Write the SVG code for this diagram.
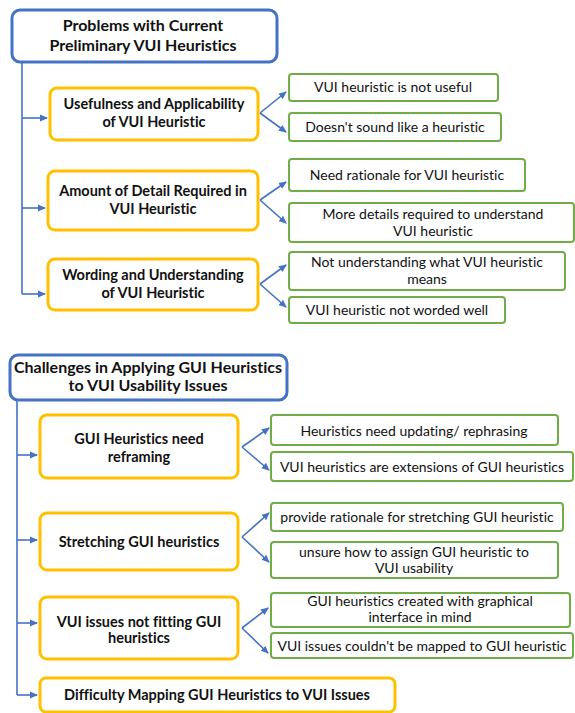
<svg xmlns="http://www.w3.org/2000/svg" width="575" height="713" viewBox="0 0 575 713">
<style>
.bg{fill:#ffffff}
.hd rect{fill:#fff;stroke:#4472C4;stroke-width:3}
.cat rect{fill:#fff;stroke:#FFC000;stroke-width:3}
.leaf rect{fill:#fff;stroke:#70AD47;stroke-width:2}
text{font-family:Lato,"Liberation Sans",sans-serif;fill:#111;text-anchor:middle;font-variant-ligatures:none;font-feature-settings:"liga" 0}
.hd text{font-size:16px;font-weight:bold}
.cat text{font-size:14.5px;font-weight:bold}
.leaf text{font-size:14px}
.cn path{fill:none;stroke:#4472C4;stroke-width:1.6;marker-end:url(#ah)}
.cn .nl{marker-end:none}
</style>
<defs>
<marker id="ah" markerWidth="8" markerHeight="8" refX="7" refY="4" orient="auto" markerUnits="userSpaceOnUse">
<path d="M0,0.5 L8,4 L0,7.5 Z" fill="#4472C4"/>
</marker>
</defs>
<rect class="bg" x="0" y="0" width="575" height="713"/>

<g class="cn" id="connectors">
<path class="nl" d="M22,62 V294"/>
<path d="M22,118 H47"/>
<path d="M22,208 H45"/>
<path d="M22,294 H45"/>
<path d="M260,113 L286,92"/>
<path d="M260,113 L286,132"/>
<path d="M260,200 L286,182"/>
<path d="M260,200 L286,223"/>
<path d="M260,284 L286,265"/>
<path d="M260,284 L286,307"/>
<path class="nl" d="M17,400 V695"/>
<path d="M17,455 H37"/>
<path d="M17,540 H37"/>
<path d="M17,623 H37"/>
<path d="M17,695 H37"/>
<path d="M242,447 L269,428"/>
<path d="M242,447 L269,470"/>
<path d="M242,537 L269,513"/>
<path d="M242,537 L269,562"/>
<path d="M242,628 L268,608"/>
<path d="M242,628 L268,653"/>
</g>

<g class="hd" id="n-problems">
<rect x="12" y="10" width="265" height="52" rx="8"/>
<text x="143" y="31">Problems with Current</text>
<text x="143" y="51">Preliminary VUI Heuristics</text>
</g>
<g class="cat" id="n-usefulness">
<rect x="50" y="88" width="208" height="52" rx="7"/>
<text x="154" y="109">Usefulness and Applicability</text>
<text x="154" y="127">of VUI Heuristic</text>
</g>
<g class="cat" id="n-amount">
<rect x="48" y="171" width="210" height="59" rx="7"/>
<text x="153" y="196">Amount of Detail Required in</text>
<text x="153" y="214">VUI Heuristic</text>
</g>
<g class="cat" id="n-wording">
<rect x="48" y="259" width="210" height="51" rx="7"/>
<text x="153" y="280">Wording and Understanding</text>
<text x="153" y="298">of VUI Heuristic</text>
</g>
<g class="leaf" id="n-notuseful">
<rect x="289" y="74" width="209" height="27" rx="3"/>
<text x="393" y="92">VUI heuristic is not useful</text>
</g>
<g class="leaf" id="n-doesnt">
<rect x="289" y="113" width="212" height="28" rx="3"/>
<text x="395" y="132">Doesn't sound like a heuristic</text>
</g>
<g class="leaf" id="n-rationale">
<rect x="289" y="159" width="236" height="32" rx="3"/>
<text x="407" y="180">Need rationale for VUI heuristic</text>
</g>
<g class="leaf" id="n-moredetails">
<rect x="289" y="203" width="285" height="39" rx="3"/>
<text x="433" y="219">More details required to understand</text>
<text x="433" y="236">VUI heuristic</text>
</g>
<g class="leaf" id="n-notunderstanding">
<rect x="289" y="252" width="276" height="38" rx="3"/>
<text x="427" y="267">Not understanding what VUI heuristic</text>
<text x="427" y="284">means</text>
</g>
<g class="leaf" id="n-notworded">
<rect x="289" y="297" width="216" height="26" rx="3"/>
<text x="397" y="315">VUI heuristic not worded well</text>
</g>

<g class="hd" id="n-challenges">
<rect x="10" y="355" width="277" height="45" rx="8"/>
<text x="148" y="373">Challenges in Applying GUI Heuristics</text>
<text x="148" y="391">to VUI Usability Issues</text>
</g>
<g class="cat" id="n-reframing">
<rect x="40" y="415" width="198" height="63" rx="7"/>
<text x="139" y="444">GUI Heuristics need</text>
<text x="139" y="462">reframing</text>
</g>
<g class="cat" id="n-stretching">
<rect x="40" y="513" width="198" height="57" rx="7"/>
<text x="139" y="547">Stretching GUI heuristics</text>
</g>
<g class="cat" id="n-notfitting">
<rect x="40" y="597" width="198" height="62" rx="7"/>
<text x="139" y="627">VUI issues not fitting GUI</text>
<text x="139" y="643">heuristics</text>
</g>
<g class="cat" id="n-difficulty">
<rect x="40" y="678" width="355" height="34" rx="6"/>
<text x="217" y="700">Difficulty Mapping GUI Heuristics to VUI Issues</text>
</g>
<g class="leaf" id="n-updating">
<rect x="271" y="415" width="287" height="30" rx="3"/>
<text x="414" y="436">Heuristics need updating/ rephrasing</text>
</g>
<g class="leaf" id="n-extensions">
<rect x="271" y="452" width="302" height="29" rx="3"/>
<text x="422" y="472">VUI heuristics are extensions of GUI heuristics</text>
</g>
<g class="leaf" id="n-providerationale">
<rect x="271" y="503" width="292" height="28" rx="3"/>
<text x="417" y="522">provide rationale for stretching GUI heuristic</text>
</g>
<g class="leaf" id="n-unsure">
<rect x="271" y="542" width="287" height="36" rx="3"/>
<text x="414" y="557">unsure how to assign GUI heuristic to</text>
<text x="414" y="573">VUI usability</text>
</g>
<g class="leaf" id="n-graphical">
<rect x="271" y="593" width="299" height="34" rx="3"/>
<text x="420" y="606">GUI heuristics created with graphical</text>
<text x="420" y="622">interface in mind</text>
</g>
<g class="leaf" id="n-couldnt">
<rect x="271" y="633" width="302" height="25" rx="3"/>
<text x="422" y="651">VUI issues couldn't be mapped to GUI heuristic</text>
</g>
</svg>
